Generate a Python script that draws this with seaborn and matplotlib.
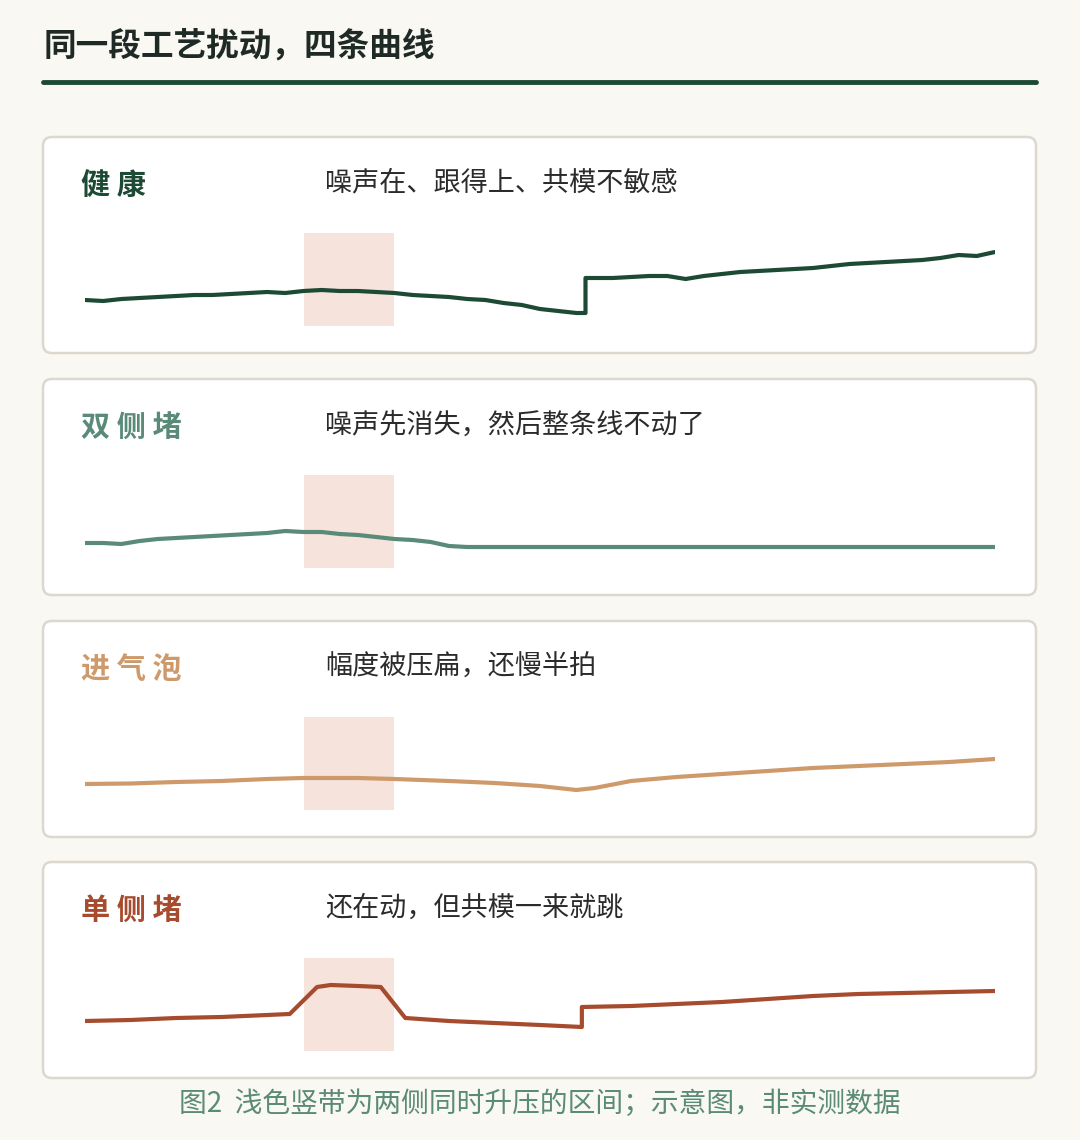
import matplotlib
matplotlib.use("Agg")
import matplotlib.pyplot as plt
import seaborn as sns
from matplotlib.patches import FancyBboxPatch

sns.set_style("white")
plt.rcParams['font.family'] = ['Noto Sans CJK SC', 'DejaVu Sans']

titles = ["健 康", "双 侧 堵", "进 气 泡", "单 侧 堵"]
subtitles = ["噪声在、跟得上、共模不敏感", "噪声先消失，然后整条线不动了",
             "幅度被压扁，还慢半拍", "还在动，但共模一来就跳"]
colors = ["#1d4a35", "#5a8a78", "#cf9a6b", "#a64b2d"]

x1 = [0,2,4,6,8,10,12,14,16,18,20,22,24,26,28,30,32,34,36,38,40,42,44,46,48,50,52,54,55,55,56,58,60,62,64,66,68,70,72,74,76,78,80,82,84,86,88,90,92,94,96,98,100]
y1 = [26,25,27,28,29,30,31,31,32,33,34,33,35,36,35,35,34,33,31,30,29,27,26,23,21,17,15,13,13,48,48,48,49,50,50,47,50,52,54,55,56,57,58,60,62,63,64,65,66,68,71,70,74]
x2 = [0,2,4,6,8,10,12,14,16,18,20,22,24,26,28,30,32,34,36,38,40,42,100]
y2 = [25,25,24,27,29,30,31,32,33,34,35,37,36,36,34,33,31,29,28,26,22,21,21]
x3 = [0,5,10,15,20,24,30,34,40,45,50,54,56,60,65,70,75,80,85,90,95,100]
y3 = [26,26.5,28,29,31,32,32,31,29,27,24,20,22,29,33,36,39,42,44,46,48,51]
x4 = [0,5,10,15,20,22.5,25.5,27,30,32.5,35.2,40,45,50,54.6,54.6,60,65,70,75,80,85,90,95,100]
y4 = [30,31,33,34,36,37,64,66,65,64,33,30,28,26,24,44,45,47,49,52,55,57,58,59,60]
series = [(x1, y1), (x2, y2), (x3, y3), (x4, y4)]
band = (24.1, 34.0)

W, H = 1080, 1140
fig = plt.figure(figsize=(W/100, H/100), dpi=100)
fig.patch.set_facecolor("#faf8f2")

def fx(px): return px / W
def fy(py): return 1 - py / H

fig.text(fx(44), fy(46), "同一段工艺扰动，四条曲线", fontsize=23.5, fontweight="bold",
         color="#1f2a26", va="center", ha="left")
fig.add_artist(plt.Line2D([fx(43), fx(1036)], [fy(82), fy(82)], color="#1e4a35", lw=3.5))

tops = [137, 379, 621, 862]
for i, top in enumerate(tops):
    box = FancyBboxPatch((fx(43), fy(top + 216)), fx(993), (216) / H,
                         boxstyle="round,pad=0,rounding_size=0.008",
                         transform=fig.transFigure, facecolor="white",
                         edgecolor="#dcd8d0", lw=1.8, zorder=-5)
    fig.add_artist(box)
    fig.text(fx(81), fy(top + 48), titles[i], fontsize=21, fontweight="bold",
             color=colors[i], va="center", ha="left")
    fig.text(fx(325), fy(top + 46), subtitles[i], fontsize=19.5, color="#2b2b2b",
             va="center", ha="left")
    ax = fig.add_axes([fx(85), fy(top + 189), fx(910), 93 / H])
    ax.set_zorder(5)
    ax.patch.set_alpha(0)
    ax.axvspan(band[0], band[1], color="#f5e3dc", lw=0)
    xs, ys = series[i]
    sns.lineplot(x=xs, y=ys, ax=ax, color=colors[i], linewidth=3,
                 sort=False, estimator=None)
    ax.set_xlim(0, 100)
    ax.set_ylim(0, 93)
    ax.axis("off")

fig.text(fx(540), fy(1104), "图2  浅色竖带为两侧同时升压的区间；示意图，非实测数据",
         fontsize=20, color="#5a8a78", va="center", ha="center")

fig.savefig("out.png", dpi=100, facecolor=fig.get_facecolor())
